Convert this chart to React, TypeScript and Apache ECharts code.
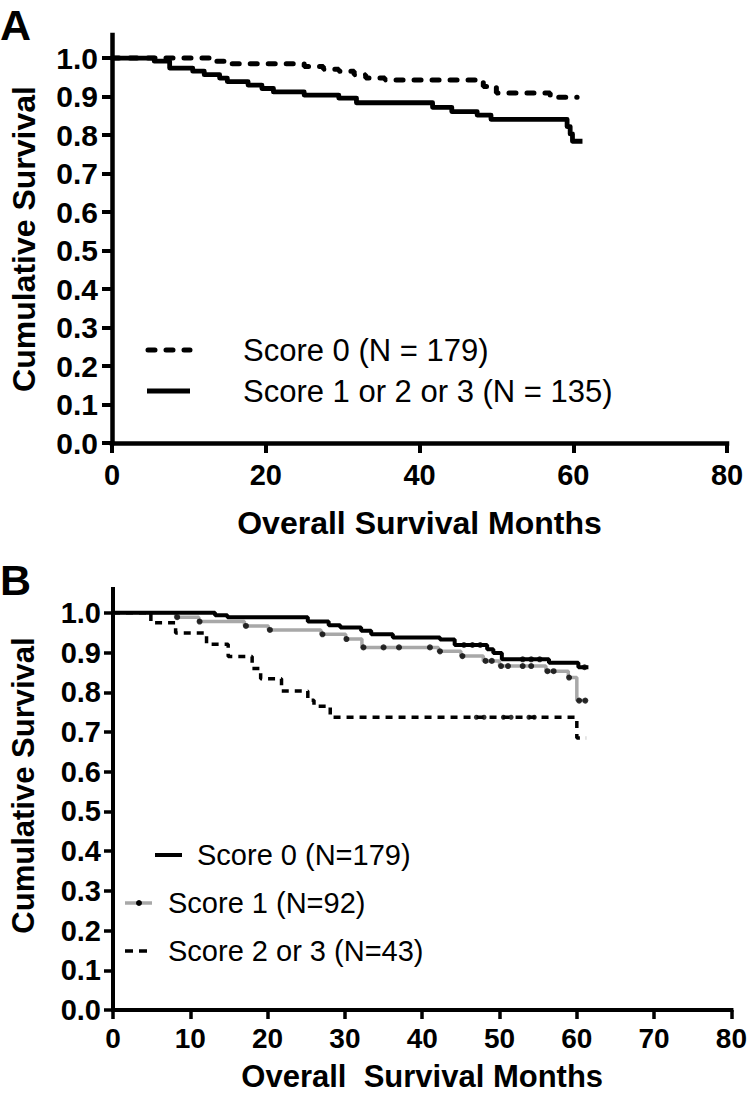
import React, { useEffect, useRef } from "react";
import * as echarts from "echarts";

// ---------- tick values ----------
const monthTicksA = [0, 20, 40, 60, 80];
const monthTicksB = [0, 10, 20, 30, 40, 50, 60, 70, 80];
const survivalTicks = [0, 0.1, 0.2, 0.3, 0.4, 0.5, 0.6, 0.7, 0.8, 0.9, 1.0];

// ---------- Panel A ----------
const aScore0Months = [0, 13, 15, 25, 27.5, 29.5, 31.5, 33, 35.5, 48.3, 50, 57, 60.5];
const aScore0Surv = [1.0, 0.992, 0.985, 0.978, 0.971, 0.966, 0.957, 0.948, 0.943, 0.926, 0.909, 0.898, 0.898];

const aScore123Months = [0, 5.5, 7.5, 10.5, 12, 14, 15, 17.7, 19.5, 21, 25, 29.5, 31.8, 41.7, 44.2, 47.5, 49.3, 59.2, 59.6, 59.9, 61.2];
const aScore123Surv = [1.0, 0.992, 0.974, 0.966, 0.957, 0.948, 0.939, 0.93, 0.921, 0.912, 0.904, 0.896, 0.884, 0.872, 0.861, 0.852, 0.841, 0.822, 0.803, 0.784, 0.784];

// ---------- Panel B ----------
const bScore0Months = [0, 13.2, 14.8, 25.2, 27.9, 29.4, 32.1, 33.4, 36.2, 42.3, 44.2, 48.4, 49.2, 50.3, 56.4, 60.2, 61.5];
const bScore0Surv = [1.0, 0.994, 0.989, 0.978, 0.969, 0.963, 0.955, 0.946, 0.938, 0.933, 0.919, 0.908, 0.899, 0.883, 0.874, 0.863, 0.863];
const bScore0Censor = [45.4, 46.5, 47.5, 53, 54.1, 55.2, 61];

const bScore1Months = [0, 8.1, 11.1, 17, 20.1, 26.9, 30.1, 32.2, 42.1, 45, 47.9, 50, 56, 58.9, 60, 61.3];
const bScore1Surv = [1.0, 0.989, 0.978, 0.967, 0.957, 0.946, 0.934, 0.913, 0.903, 0.891, 0.879, 0.866, 0.853, 0.837, 0.779, 0.779];
const bScore1Censor = [8.3, 11.2, 17.2, 20.3, 27.1, 30.2, 32.4, 35, 37, 41, 42.3, 45.2, 48.2, 49, 50.2, 51.1, 53, 54.1, 56.2, 57, 59, 60.3, 61.1];

const bScore23Months = [0, 4.9, 8.1, 12.1, 14.9, 18, 19.1, 21.8, 25.2, 26, 28.1, 60, 61.2];
const bScore23Surv = [1.0, 0.975, 0.949, 0.921, 0.89, 0.86, 0.834, 0.803, 0.78, 0.765, 0.737, 0.685, 0.685];
const bScore23Censor = [47, 48, 50.5, 51.5, 53.8, 54.5];

const legendA = ["Score 0 (N = 179)", "Score 1 or 2 or 3 (N = 135)"];
const legendB = ["Score 0 (N=179)", "Score 1 (N=92)", "Score 2 or 3 (N=43)"];
const xTitleA = "Overall Survival Months";
const xTitleB = "Overall  Survival Months";
const yTitle = "Cumulative Survival";
const panelLetters = ["A", "B"];

const FONT = '"Liberation Sans", Arial, Helvetica, sans-serif';

function zip(xs: number[], ys: number[]) {
  return xs.map((x, i) => [x, ys[i]]);
}
function survAt(xs: number[], ys: number[], t: number) {
  let s = ys[0];
  for (let i = 0; i < xs.length; i++) if (xs[i] <= t) s = ys[i];
  return s;
}

function axisStyle(lw: number, tickLen: number) {
  return {
    axisLine: { show: true, onZero: false, lineStyle: { color: "#000", width: lw, cap: "square" } },
    axisTick: { show: true, inside: false, length: tickLen, lineStyle: { color: "#000", width: lw - 0.5 } },
    splitLine: { show: false },
  };
}

export default function App() {
  const ref = useRef<HTMLDivElement>(null);

  useEffect(() => {
    document.body.style.margin = "0";
    if (!ref.current) return;
    const chart = echarts.init(ref.current, undefined, { renderer: "svg" });

    const yLabelFmt = (v: number) => v.toFixed(1);

    const option: any = {
      animation: false,
      backgroundColor: "#fff",
      grid: [
        { left: 112, top: 35, width: 615, height: 408, containLabel: false },
        { left: 102, top: 589, width: 631, height: 422, containLabel: false },
      ],
      xAxis: [
        {
          gridIndex: 0,
          type: "value",
          min: monthTicksA[0],
          max: monthTicksA[monthTicksA.length - 1],
          interval: monthTicksA[1] - monthTicksA[0],
          ...axisStyle(4.5, 10),
          axisLabel: { fontSize: 29, fontWeight: "bold", color: "#000", fontFamily: FONT, margin: 17 },
          name: xTitleA,
          nameLocation: "middle",
          nameGap: 64,
          nameTextStyle: { fontSize: 32, fontWeight: "bold", color: "#000", fontFamily: FONT },
        },
        {
          gridIndex: 1,
          type: "value",
          min: monthTicksB[0],
          max: monthTicksB[monthTicksB.length - 1],
          interval: monthTicksB[1] - monthTicksB[0],
          ...axisStyle(4, 9),
          axisLabel: { fontSize: 28, fontWeight: "bold", color: "#000", fontFamily: FONT, margin: 14 },
          name: xTitleB,
          nameLocation: "middle",
          nameGap: 51,
          nameTextStyle: { fontSize: 31, fontWeight: "bold", color: "#000", fontFamily: FONT },
        },
      ],
      yAxis: [
        {
          gridIndex: 0,
          type: "value",
          min: 0,
          max: 1.06,
          ...axisStyle(4.5, 10),
          axisTick: { show: true, length: 10, customValues: survivalTicks, lineStyle: { color: "#000", width: 4 } },
          axisLabel: {
            customValues: survivalTicks,
            formatter: yLabelFmt,
            fontSize: 30,
            fontWeight: "bold",
            color: "#000",
            fontFamily: FONT,
            margin: 14,
          },
          name: yTitle,
          nameLocation: "middle",
          nameRotate: 90,
          nameGap: 72,
          nameTextStyle: { fontSize: 32, fontWeight: "bold", color: "#000", fontFamily: FONT },
        },
        {
          gridIndex: 1,
          type: "value",
          min: 0,
          max: 1.06,
          ...axisStyle(4, 9),
          axisTick: { show: true, length: 9, customValues: survivalTicks, lineStyle: { color: "#000", width: 3.5 } },
          axisLabel: {
            customValues: survivalTicks,
            formatter: yLabelFmt,
            fontSize: 29,
            fontWeight: "bold",
            color: "#000",
            fontFamily: FONT,
            margin: 12,
          },
          name: yTitle,
          nameLocation: "middle",
          nameRotate: 90,
          nameGap: 74,
          nameTextStyle: { fontSize: 31, fontWeight: "bold", color: "#000", fontFamily: FONT, padding: [0, 0, 0, 28] },
        },
      ],
      series: [
        {
          name: legendA[1],
          type: "line",
          xAxisIndex: 0,
          yAxisIndex: 0,
          step: "end",
          showSymbol: false,
          symbol: "none",
          data: zip(aScore123Months, aScore123Surv),
          lineStyle: { color: "#000", width: 4.8, join: "round" },
          z: 3,
        },
        {
          name: legendA[0],
          type: "line",
          xAxisIndex: 0,
          yAxisIndex: 0,
          step: "end",
          showSymbol: false,
          symbol: "none",
          data: zip(aScore0Months, aScore0Surv),
          lineStyle: { color: "#000", width: 5, type: [7, 11], cap: "round" },
          z: 4,
        },
        {
          name: legendB[1],
          type: "line",
          xAxisIndex: 1,
          yAxisIndex: 1,
          step: "end",
          showSymbol: false,
          symbol: "none",
          data: zip(bScore1Months, bScore1Surv),
          lineStyle: { color: "#a8a8a8", width: 3.5 },
          z: 3,
        },
        {
          name: legendB[0],
          type: "line",
          xAxisIndex: 1,
          yAxisIndex: 1,
          step: "end",
          showSymbol: false,
          symbol: "none",
          data: zip(bScore0Months, bScore0Surv),
          lineStyle: { color: "#000", width: 4 },
          z: 4,
        },
        {
          name: legendB[2],
          type: "line",
          xAxisIndex: 1,
          yAxisIndex: 1,
          step: "end",
          showSymbol: false,
          symbol: "none",
          data: zip(bScore23Months, bScore23Surv),
          lineStyle: { color: "#000", width: 3.5, type: [7, 6] },
          z: 5,
        },
        {
          type: "scatter",
          xAxisIndex: 1,
          yAxisIndex: 1,
          symbol: "circle",
          symbolSize: 6,
          itemStyle: { color: "#000" },
          data: bScore1Censor.map((t) => [t, survAt(bScore1Months, bScore1Surv, t)]),
          z: 6,
        },
        {
          type: "scatter",
          xAxisIndex: 1,
          yAxisIndex: 1,
          symbol: "circle",
          symbolSize: 6,
          itemStyle: { color: "#000" },
          data: bScore0Censor.map((t) => [t, survAt(bScore0Months, bScore0Surv, t)]),
          z: 6,
        },
        {
          type: "scatter",
          xAxisIndex: 1,
          yAxisIndex: 1,
          symbol: "circle",
          symbolSize: 5,
          itemStyle: { color: "#000" },
          data: bScore23Censor.map((t) => [t, survAt(bScore23Months, bScore23Surv, t)]),
          z: 6,
        },
      ],
      graphic: [
        // panel letters
        { type: "text", x: 0, y: 3, style: { text: panelLetters[0], fontSize: 43, fontWeight: "bold", fontFamily: FONT, fill: "#000" } },
        { type: "text", x: 0, y: 558, style: { text: panelLetters[1], fontSize: 43, fontWeight: "bold", fontFamily: FONT, fill: "#000" } },
        // legend A
        { type: "line", shape: { x1: 148, y1: 350, x2: 190, y2: 350 }, style: { stroke: "#000", lineWidth: 5, lineDash: [7, 11], lineCap: "round" } },
        { type: "text", x: 243, y: 350, style: { text: legendA[0], fontSize: 31, fontFamily: FONT, fill: "#000", verticalAlign: "middle" } },
        { type: "line", shape: { x1: 147, y1: 391, x2: 190, y2: 391 }, style: { stroke: "#000", lineWidth: 4.8 } },
        { type: "text", x: 243, y: 391, style: { text: legendA[1], fontSize: 31, fontFamily: FONT, fill: "#000", verticalAlign: "middle" } },
        // legend B
        { type: "line", shape: { x1: 155, y1: 855, x2: 182, y2: 855 }, style: { stroke: "#000", lineWidth: 4 } },
        { type: "text", x: 197, y: 855, style: { text: legendB[0], fontSize: 29, fontFamily: FONT, fill: "#000", verticalAlign: "middle" } },
        { type: "line", shape: { x1: 125, y1: 903, x2: 152, y2: 903 }, style: { stroke: "#a8a8a8", lineWidth: 3.5 } },
        { type: "circle", shape: { cx: 139, cy: 903, r: 3 }, style: { fill: "#000" } },
        { type: "text", x: 168, y: 903, style: { text: legendB[1], fontSize: 29, fontFamily: FONT, fill: "#000", verticalAlign: "middle" } },
        { type: "line", shape: { x1: 125, y1: 951, x2: 152, y2: 951 }, style: { stroke: "#000", lineWidth: 3.5, lineDash: [8, 6] } },
        { type: "text", x: 168, y: 951, style: { text: legendB[2], fontSize: 29, fontFamily: FONT, fill: "#000", verticalAlign: "middle" } },
      ],
    };

    chart.setOption(option);
    return () => chart.dispose();
  }, []);

  return <div ref={ref} style={{ width: 750, height: 1093 }} />;
}
